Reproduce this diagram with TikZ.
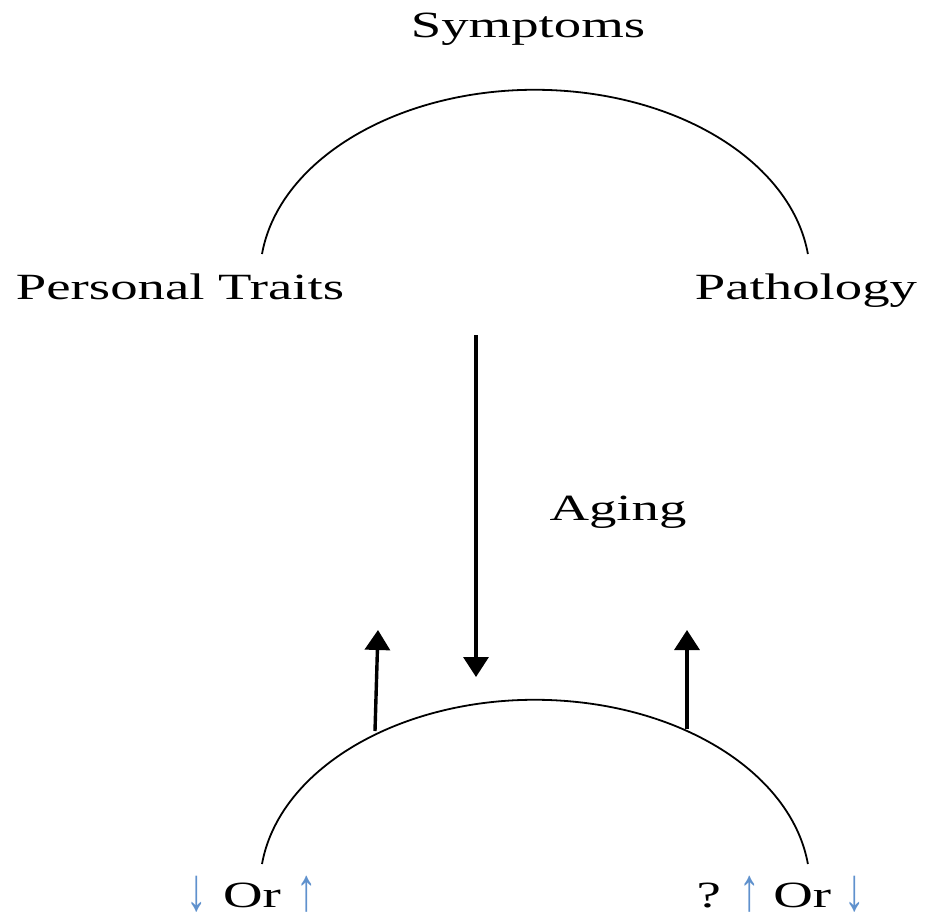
\documentclass[tikz,border=0pt]{standalone}
\usepackage{graphicx}
\usepackage{fontspec}
\setmainfont{Liberation Serif}
\usetikzlibrary{arrows.meta}
\definecolor{arrowblue}{RGB}{95,145,205}
\tikzset{
  txt/.style={font=\fontsize{37}{44}\selectfont, inner sep=0pt, anchor=base},
  arcline/.style={line width=1.8pt, black},
  uparrow/.style={line width=3.4pt, -{Triangle[width=25pt,length=20pt]}}
}
\newcommand{\wide}[1]{\scalebox{1.48}[1]{#1}}
\newcommand{\garr}[1]{\raisebox{-3pt}{\scalebox{0.75}[1.65]{\textcolor{arrowblue}{#1}}}}
\begin{document}
\begin{tikzpicture}[x=1pt,y=-1pt]
\useasboundingbox (0,0) rectangle (927,921);
% labels
\node[txt] (symptoms) at (528,37) {\wide{Symptoms}};
\node[txt] (traits) at (180,299) {\wide{Personal Traits}};
\node[txt] (pathology) at (806,299) {\wide{Pathology}};
\node[txt] (aging) at (618,520) {\wide{Aging}};
\node[txt] (leftlab) at (252,907) {\wide{\garr{↓}\hspace{1.5pt} Or \hspace{1.5pt}\garr{↑}}};
\node[txt] (rightlab) at (781,907) {\wide{? \garr{↑} Or \garr{↓}}};
% top arc
\coordinate (topL) at (262,254);
\draw[arcline] (topL) arc[start angle=187, end angle=353, x radius=275, y radius=187];
% bottom arc
\coordinate (botL) at (262,864);
\draw[arcline] (botL) arc[start angle=187, end angle=353, x radius=275, y radius=187];
% arrows
\coordinate (dtop) at (476,335);
\coordinate (dtip) at (476,677);
\draw[uparrow] (dtop) -- (dtip);
\coordinate (lbase) at (375,731);
\coordinate (ltip) at (378,630);
\draw[uparrow] (lbase) -- (ltip);
\coordinate (rbase) at (687,729);
\coordinate (rtip) at (687,630);
\draw[uparrow] (rbase) -- (rtip);
\end{tikzpicture}
\end{document}
